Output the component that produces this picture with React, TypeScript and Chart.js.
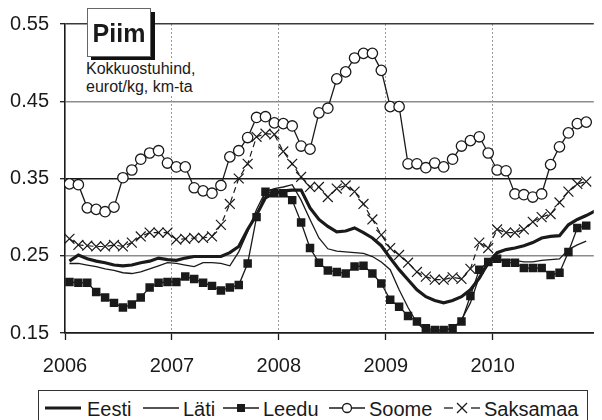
import React, { useEffect, useRef } from 'react';
import { Chart, registerables } from 'chart.js';

Chart.register(...registerables);

const years = ['2006', '2007', '2008', '2009', '2010'];
const yTicks = [0.15, 0.25, 0.35, 0.45, 0.55];

// monthly values, Jan 2006 onward (eurot/kg)
const eesti = [
  0.243, 0.251, 0.246, 0.243, 0.241, 0.238, 0.237, 0.238, 0.241, 0.243,
  0.247, 0.245, 0.244, 0.247, 0.249, 0.249, 0.249, 0.249, 0.254, 0.262,
  0.284, 0.303, 0.325, 0.331, 0.334, 0.335, 0.335, 0.312, 0.297, 0.288,
  0.281, 0.282, 0.286, 0.280, 0.273, 0.263, 0.247, 0.232, 0.219, 0.206,
  0.197, 0.192, 0.189, 0.192, 0.197, 0.206, 0.221, 0.241, 0.254, 0.258,
  0.260, 0.263, 0.267, 0.273, 0.275, 0.276, 0.290, 0.297, 0.302, 0.308,
];
const lati = [
  0.240, 0.240, 0.238, 0.236, 0.233, 0.231, 0.228, 0.227, 0.229, 0.233,
  0.237, 0.241, 0.240, 0.238, 0.236, 0.241, 0.241, 0.240, 0.237, 0.255,
  0.281, 0.310, 0.333, 0.337, 0.339, 0.342, 0.322, 0.297, 0.273, 0.259,
  0.256, 0.255, 0.254, 0.253, 0.249, 0.242, 0.232, 0.206, 0.183, 0.163,
  0.153, 0.152, 0.153, 0.156, 0.167, 0.189, 0.223, 0.238, 0.245, 0.245,
  0.244, 0.242, 0.242, 0.244, 0.245, 0.246, 0.258, 0.264, 0.269,
];
const leedu = [
  0.216, 0.215, 0.215, 0.203, 0.196, 0.189, 0.183, 0.187, 0.196, 0.209,
  0.215, 0.216, 0.216, 0.223, 0.220, 0.215, 0.211, 0.205, 0.209, 0.212,
  0.240, 0.300, 0.333, 0.331, 0.331, 0.322, 0.293, 0.260, 0.241, 0.231,
  0.229, 0.227, 0.236, 0.237, 0.227, 0.214, 0.193, 0.184, 0.172, 0.165,
  0.156, 0.154, 0.154, 0.156, 0.165, 0.198, 0.232, 0.242, 0.246, 0.241,
  0.241, 0.234, 0.234, 0.234, 0.225, 0.228, 0.255, 0.286, 0.289,
];
const soome = [
  0.343, 0.342, 0.312, 0.310, 0.307, 0.313, 0.351, 0.361, 0.375, 0.383,
  0.386, 0.370, 0.365, 0.365, 0.338, 0.334, 0.331, 0.341, 0.378, 0.386,
  0.403, 0.429, 0.430, 0.422, 0.421, 0.418, 0.392, 0.388, 0.435, 0.441,
  0.479, 0.488, 0.506, 0.512, 0.512, 0.490, 0.443, 0.443, 0.369, 0.369,
  0.364, 0.370, 0.365, 0.375, 0.392, 0.399, 0.404, 0.383, 0.361, 0.360,
  0.330, 0.329, 0.326, 0.330, 0.368, 0.391, 0.409, 0.421, 0.423,
];
const saksamaa = [
  0.272, 0.264, 0.263, 0.262, 0.262, 0.264, 0.262, 0.267, 0.275, 0.280,
  0.280, 0.280, 0.271, 0.272, 0.273, 0.273, 0.275, 0.290, 0.317, 0.350,
  0.369, 0.404, 0.408, 0.407, 0.385, 0.369, 0.352, 0.339, 0.339, 0.326,
  0.337, 0.341, 0.333, 0.317, 0.297, 0.277, 0.260, 0.251, 0.241, 0.229,
  0.223, 0.219, 0.219, 0.222, 0.220, 0.233, 0.267, 0.260, 0.284, 0.280,
  0.280, 0.284, 0.294, 0.300, 0.304, 0.319, 0.333, 0.343, 0.346,
];

const seriesNames = ['Eesti', 'Läti', 'Leedu', 'Soome', 'Saksamaa'];
const titleText = 'Piim';
const subtitleLines = ['Kokkuostuhind,', 'eurot/kg, km-ta'];

const INK = '#1a1a1a';
const FONT = '"Liberation Sans", Arial, Helvetica, sans-serif';

const toXY = (arr: number[]) => arr.map((v, i) => ({ x: i + 0.5, y: v }));

const gridColors = [INK, '#8c8c8c', '#1a1a1a', '#8c8c8c', '#3a3a3a'];

function LegendIcon({ kind }: { kind: number }) {
  const w = 36;
  const h = 16;
  const cy = 8;
  if (kind === 0) {
    return (
      <svg width={w} height={h}><line x1={0} y1={cy} x2={w} y2={cy} stroke={INK} strokeWidth={3.2} /></svg>
    );
  }
  if (kind === 1) {
    return (
      <svg width={w} height={h}><line x1={0} y1={cy} x2={w} y2={cy} stroke={INK} strokeWidth={1.3} /></svg>
    );
  }
  if (kind === 2) {
    return (
      <svg width={w} height={h}>
        <line x1={0} y1={cy} x2={w} y2={cy} stroke={INK} strokeWidth={1.3} />
        <rect x={w / 2 - 4} y={cy - 4} width={8} height={8} fill={INK} />
      </svg>
    );
  }
  if (kind === 3) {
    return (
      <svg width={w} height={h}>
        <line x1={0} y1={cy} x2={w} y2={cy} stroke={INK} strokeWidth={1.3} />
        <circle cx={w / 2} cy={cy} r={4.5} fill="#fff" stroke={INK} strokeWidth={1.3} />
      </svg>
    );
  }
  return (
    <svg width={w} height={h}>
      <line x1={0} y1={cy} x2={9} y2={cy} stroke={INK} strokeWidth={1.3} />
      <line x1={27} y1={cy} x2={36} y2={cy} stroke={INK} strokeWidth={1.3} />
      <line x1={w / 2 - 5} y1={cy - 5} x2={w / 2 + 5} y2={cy + 5} stroke={INK} strokeWidth={1.3} />
      <line x1={w / 2 - 5} y1={cy + 5} x2={w / 2 + 5} y2={cy - 5} stroke={INK} strokeWidth={1.3} />
    </svg>
  );
}

const iconLefts = [45, 143, 223, 329, 444];
const textLefts = [87, 183, 263, 369, 484];

export default function App() {
  const ref = useRef<HTMLCanvasElement>(null);

  useEffect(() => {
    if (!ref.current) return;
    const clipGridPlugin = {
      id: 'clipGrid',
      beforeDatasetsDraw(chart: any) {
        const y = chart.scales.y.getPixelForValue(0.35);
        const c = chart.ctx;
        c.save();
        c.fillStyle = '#fff';
        c.fillRect(581, y - 2, 40, 4);
        c.restore();
      },
    };
    const chart = new Chart(ref.current, {
      type: 'line',
      data: {
        datasets: [
          {
            label: seriesNames[0],
            data: toXY(eesti),
            borderColor: INK,
            borderWidth: 3.2,
            pointRadius: 0,
            tension: 0,
          },
          {
            label: seriesNames[1],
            data: toXY(lati),
            borderColor: INK,
            borderWidth: 1.3,
            pointRadius: 0,
            tension: 0,
          },
          {
            label: seriesNames[2],
            data: toXY(leedu),
            borderColor: INK,
            backgroundColor: INK,
            borderWidth: 1.3,
            pointStyle: 'rect',
            pointRadius: 6,
            pointBackgroundColor: INK,
            pointBorderColor: INK,
            pointBorderWidth: 0,
            tension: 0,
          },
          {
            label: seriesNames[3],
            data: toXY(soome),
            borderColor: INK,
            borderWidth: 1.3,
            pointStyle: 'circle',
            pointRadius: 5.2,
            pointBackgroundColor: '#fff',
            pointBorderColor: INK,
            pointBorderWidth: 1.3,
            tension: 0,
          },
          {
            label: seriesNames[4],
            data: toXY(saksamaa),
            borderColor: INK,
            borderWidth: 1.2,
            borderDash: [6, 4],
            pointStyle: 'crossRot',
            pointRadius: 7,
            pointBorderColor: INK,
            pointBorderWidth: 1.2,
            tension: 0,
          },
        ],
      },
      options: {
        responsive: false,
        animation: false,
        devicePixelRatio: 1,
        layout: { padding: { top: 24, left: 0, right: 0, bottom: 0 } },
        plugins: { legend: { display: false }, tooltip: { enabled: false } },
        scales: {
          x: {
            type: 'linear',
            min: 0,
            max: 59.35,
            afterBuildTicks: (s: any) => {
              s.ticks = years.map((_, i) => ({ value: i * 12 }));
            },
            afterFit: (s: any) => {
              s.height = 44;
            },
            ticks: {
              callback: (_v: any, i: number) => years[i] ?? '',
              font: { size: 20, family: FONT },
              color: INK,
              padding: 14,
              maxRotation: 0,
              autoSkip: false,
            },
            grid: {
              color: (c: any) => (c.index === 0 ? 'rgba(0,0,0,0)' : '#9a9a9a'),
              lineWidth: 1,
              tickColor: INK,
              tickLength: 7,
              tickWidth: 1.3,
            },
            border: { color: INK, width: 1.6, dash: [2, 2] },
          },
          y: {
            min: 0.15,
            max: 0.55,
            afterBuildTicks: (s: any) => {
              s.ticks = yTicks.map((v) => ({ value: v }));
            },
            afterFit: (s: any) => {
              s.width = 65;
            },
            ticks: {
              callback: (v: any) => Number(v).toFixed(2),
              font: { size: 20, family: FONT },
              color: INK,
              padding: 11,
            },
            grid: {
              color: (c: any) => gridColors[c.index] ?? '#8c8c8c',
              lineWidth: 1.4,
              tickColor: INK,
              tickLength: 5,
              tickWidth: 1.3,
            },
            border: { color: INK, width: 1.6 },
          },
        },
      } as any,
      plugins: [clipGridPlugin],
    });
    return () => chart.destroy();
  }, []);

  return (
    <div
      style={{
        position: 'absolute',
        left: 0,
        top: 0,
        width: 602,
        height: 420,
        overflow: 'hidden',
        background: '#fff',
        fontFamily: FONT,
        color: INK,
      }}
    >
      <canvas ref={ref} width={602} height={377} style={{ position: 'absolute', left: 0, top: 0, width: 602, height: 377 }} />
      <div
        style={{
          position: 'absolute',
          left: 87,
          top: 8,
          width: 62,
          height: 47,
          border: '1px solid #666',
          background: '#fff',
          boxShadow: '4px 4px 0 #111',
          textAlign: 'center',
          fontWeight: 'bold',
          fontSize: 25,
          lineHeight: '25px',
          paddingTop: 0,
          boxSizing: 'content-box',
        }}
      >
        <div style={{ paddingTop: 12 }}>{titleText}</div>
      </div>
      <div
        style={{
          position: 'absolute',
          left: 86,
          top: 60,
          width: 112,
          background: '#fff',
          fontSize: 16,
          lineHeight: '17.5px',
          whiteSpace: 'nowrap',
        }}
      >
        {subtitleLines.map((l) => (
          <div key={l}>{l}</div>
        ))}
      </div>
      <div
        style={{
          position: 'absolute',
          left: 38,
          top: 390,
          width: 548,
          height: 44,
          border: '1.5px solid #333',
          background: '#fff',
        }}
      />
      {seriesNames.map((n, i) => (
        <React.Fragment key={n}>
          <div style={{ position: 'absolute', left: iconLefts[i], top: 400, height: 16, lineHeight: 0 }}>
            <LegendIcon kind={i} />
          </div>
          <div
            style={{
              position: 'absolute',
              left: textLefts[i],
              top: 397,
              fontSize: 20,
              lineHeight: '24px',
              whiteSpace: 'nowrap',
            }}
          >
            {n}
          </div>
        </React.Fragment>
      ))}
    </div>
  );
}
